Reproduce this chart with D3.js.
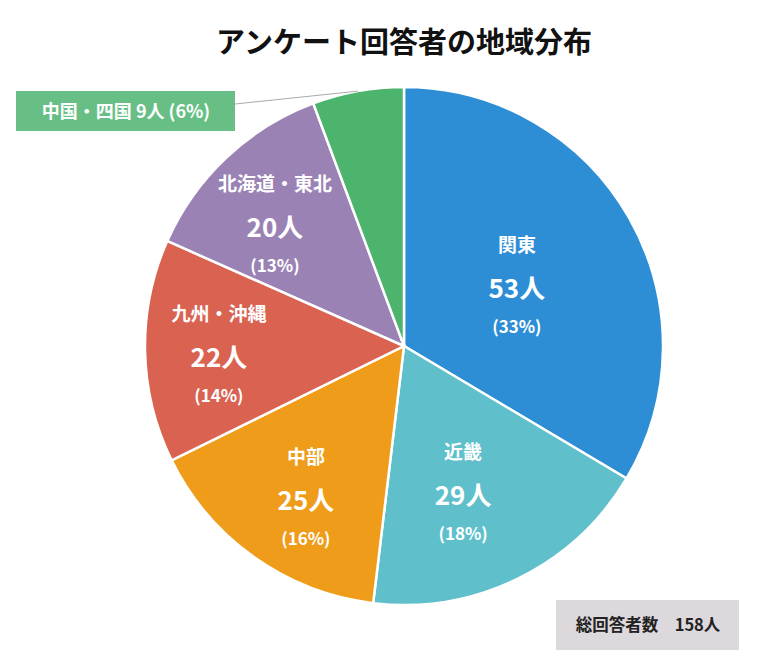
<!DOCTYPE html>
<html lang="ja">
<head>
<meta charset="utf-8">
<script src="https://cdn.jsdelivr.net/npm/d3@7"></script>
<style>
	body { margin: 0; background: #fff; font-family: "Noto Sans CJK JP", "Noto Sans", sans-serif; }
	svg text { font-family: "Noto Sans CJK JP", "Noto Sans", sans-serif; font-weight: 700; }
</style>
</head>
<body>
<script>
// regions and respondents
const regions = ["関東", "近畿", "中部", "九州・沖縄", "北海道・東北", "中国・四国"];
const counts = [53, 29, 25, 22, 20, 9];
const percents = [33, 18, 16, 14, 13, 6];
const colors = ["#2e8ed5", "#5fbfcb", "#ee9c19", "#da6251", "#9a83b4", "#4cb46c"];
const totalLabel = "総回答者数　158人";

const width = 768;
const height = 672;
const cx = 404, cy = 346, radius = 259;

// where each inside label sits: angle (deg, clockwise from top) and fraction of radius
const labelAngle = [62.8, 158.4, 212.5, 266.6, 312.7];
const labelPos = [0.49, 0.62, 0.705, 0.716, 0.678];

const svg = d3.select("body").append("svg").attr("width", width).attr("height", height);

// Title
svg.append("text")
	.attr("x", 404)
	.attr("y", 53)
	.attr("text-anchor", "middle")
	.attr("font-size", 29)
	.attr("font-weight", 900)
	.attr("fill", "#111")
	.text("アンケート回答者の地域分布");

const data = regions.map((r, i) => ({ region: r, count: counts[i], pct: percents[i], color: colors[i], idx: i }));

const pie = d3.pie().sort(null).value((d) => d.count);
const arc = d3.arc().innerRadius(0).outerRadius(radius);
const arcs = pie(data);

const g = svg.append("g").attr("transform", `translate(${cx},${cy})`);

g.selectAll("path")
	.data(arcs)
	.enter()
	.append("path")
	.attr("d", arc)
	.attr("fill", (d) => d.data.color)
	.attr("stroke", "#fff")
	.attr("stroke-width", 2.5);

// labels inside the bigger slices
arcs.filter((d) => d.data.idx < 5).forEach((d) => {
	const r = radius * labelPos[d.data.idx];
	const a = (labelAngle[d.data.idx] * Math.PI) / 180;
	const x = r * Math.sin(a);
	const y = -r * Math.cos(a);
	const lg = g.append("g").attr("transform", `translate(${x},${y})`).attr("fill", "#fff").attr("text-anchor", "middle");
	lg.append("text").attr("y", -36).attr("font-size", 19).text(d.data.region);
	lg.append("text").attr("y", 10).attr("font-size", 26).text(d.data.count + "人");
	lg.append("text").attr("y", 45).attr("font-size", 17).text(`(${d.data.pct}%)`);
});

// callout for the small slice
const small = arcs[5];
const sa = (small.startAngle + small.endAngle) / 2;
const tip = [cx + radius * Math.sin(sa), cy - radius * Math.cos(sa)];
svg.append("line")
	.attr("x1", 235)
	.attr("y1", 104)
	.attr("x2", tip[0])
	.attr("y2", tip[1])
	.attr("stroke", "#aaa")
	.attr("stroke-width", 1);
svg.append("rect")
	.attr("x", 16)
	.attr("y", 91)
	.attr("width", 219)
	.attr("height", 40)
	.attr("fill", "#68bf86");
svg.append("text")
	.attr("x", 126)
	.attr("y", 118)
	.attr("text-anchor", "middle")
	.attr("font-size", 18)
	.attr("fill", "#fff")
	.text(`${small.data.region} ${small.data.count}人 (${small.data.pct}%)`);

// total box
svg.append("rect")
	.attr("x", 556)
	.attr("y", 600)
	.attr("width", 183)
	.attr("height", 50)
	.attr("fill", "#ddd8dc");
svg.append("text")
	.attr("x", 648)
	.attr("y", 631)
	.attr("text-anchor", "middle")
	.attr("font-size", 16.5)
	.attr("fill", "#222")
	.text(totalLabel);
</script>
</body>
</html>
